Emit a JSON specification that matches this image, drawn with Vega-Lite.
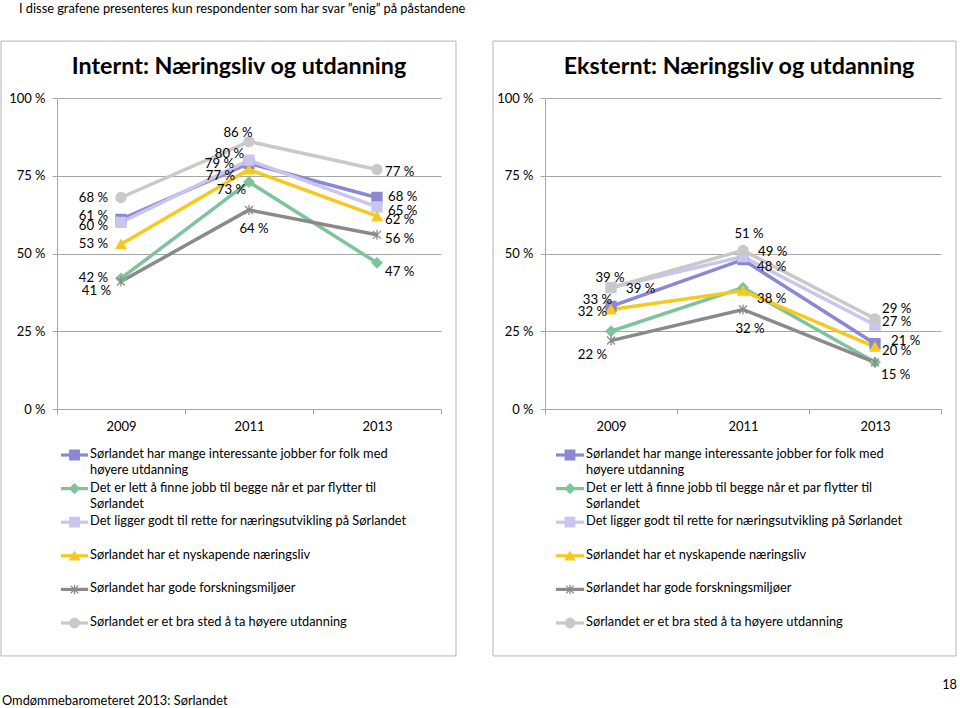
{
  "$schema": "https://vega.github.io/schema/vega-lite/v6.json",
  "padding": {"left": 0, "top": 2, "right": 0, "bottom": 0},
  "background": "#ffffff",
  "title": {"text": "I disse grafene presenteres kun respondenter som har svar ”enig” på påstandene", "anchor": "start", "frame": "group", "dx": -38, "offset": 25, "fontSize": 12.8, "fontWeight": "normal", "font": "Lato", "color": "#000000"},
  "datasets": {
    "internt": [
      {"k": "A", "series": "Sørlandet har mange interessante jobber for folk med høyere utdanning", "year": 2009, "value": 0.61},
      {"k": "A", "series": "Sørlandet har mange interessante jobber for folk med høyere utdanning", "year": 2011, "value": 0.79},
      {"k": "A", "series": "Sørlandet har mange interessante jobber for folk med høyere utdanning", "year": 2013, "value": 0.68},
      {"k": "B", "series": "Det er lett å finne jobb til begge når et par flytter til Sørlandet", "year": 2009, "value": 0.42},
      {"k": "B", "series": "Det er lett å finne jobb til begge når et par flytter til Sørlandet", "year": 2011, "value": 0.73},
      {"k": "B", "series": "Det er lett å finne jobb til begge når et par flytter til Sørlandet", "year": 2013, "value": 0.47},
      {"k": "C", "series": "Det ligger godt til rette for næringsutvikling på Sørlandet", "year": 2009, "value": 0.60},
      {"k": "C", "series": "Det ligger godt til rette for næringsutvikling på Sørlandet", "year": 2011, "value": 0.80},
      {"k": "C", "series": "Det ligger godt til rette for næringsutvikling på Sørlandet", "year": 2013, "value": 0.65},
      {"k": "D", "series": "Sørlandet har et nyskapende næringsliv", "year": 2009, "value": 0.53},
      {"k": "D", "series": "Sørlandet har et nyskapende næringsliv", "year": 2011, "value": 0.77},
      {"k": "D", "series": "Sørlandet har et nyskapende næringsliv", "year": 2013, "value": 0.62},
      {"k": "E", "series": "Sørlandet har gode forskningsmiljøer", "year": 2009, "value": 0.41},
      {"k": "E", "series": "Sørlandet har gode forskningsmiljøer", "year": 2011, "value": 0.64},
      {"k": "E", "series": "Sørlandet har gode forskningsmiljøer", "year": 2013, "value": 0.56},
      {"k": "F", "series": "Sørlandet er et bra sted å ta høyere utdanning", "year": 2009, "value": 0.68},
      {"k": "F", "series": "Sørlandet er et bra sted å ta høyere utdanning", "year": 2011, "value": 0.86},
      {"k": "F", "series": "Sørlandet er et bra sted å ta høyere utdanning", "year": 2013, "value": 0.77}
    ],
    "eksternt": [
      {"k": "A", "series": "Sørlandet har mange interessante jobber for folk med høyere utdanning", "year": 2009, "value": 0.33},
      {"k": "A", "series": "Sørlandet har mange interessante jobber for folk med høyere utdanning", "year": 2011, "value": 0.48},
      {"k": "A", "series": "Sørlandet har mange interessante jobber for folk med høyere utdanning", "year": 2013, "value": 0.21},
      {"k": "B", "series": "Det er lett å finne jobb til begge når et par flytter til Sørlandet", "year": 2009, "value": 0.25},
      {"k": "B", "series": "Det er lett å finne jobb til begge når et par flytter til Sørlandet", "year": 2011, "value": 0.39},
      {"k": "B", "series": "Det er lett å finne jobb til begge når et par flytter til Sørlandet", "year": 2013, "value": 0.15},
      {"k": "C", "series": "Det ligger godt til rette for næringsutvikling på Sørlandet", "year": 2009, "value": 0.39},
      {"k": "C", "series": "Det ligger godt til rette for næringsutvikling på Sørlandet", "year": 2011, "value": 0.49},
      {"k": "C", "series": "Det ligger godt til rette for næringsutvikling på Sørlandet", "year": 2013, "value": 0.27},
      {"k": "D", "series": "Sørlandet har et nyskapende næringsliv", "year": 2009, "value": 0.32},
      {"k": "D", "series": "Sørlandet har et nyskapende næringsliv", "year": 2011, "value": 0.38},
      {"k": "D", "series": "Sørlandet har et nyskapende næringsliv", "year": 2013, "value": 0.20},
      {"k": "E", "series": "Sørlandet har gode forskningsmiljøer", "year": 2009, "value": 0.22},
      {"k": "E", "series": "Sørlandet har gode forskningsmiljøer", "year": 2011, "value": 0.32},
      {"k": "E", "series": "Sørlandet har gode forskningsmiljøer", "year": 2013, "value": 0.15},
      {"k": "F", "series": "Sørlandet er et bra sted å ta høyere utdanning", "year": 2009, "value": 0.39},
      {"k": "F", "series": "Sørlandet er et bra sted å ta høyere utdanning", "year": 2011, "value": 0.51},
      {"k": "F", "series": "Sørlandet er et bra sted å ta høyere utdanning", "year": 2013, "value": 0.29}
    ]
  },
  "columns": 2,
  "align": "each",
  "bounds": "flush",
  "spacing": {"row": 46, "column": 104},
  "concat": [
    {
      "data": {"name": "internt"},
      "width": 384, "height": 311,
      "title": {"text": "Internt: Næringsliv og utdanning", "font": "Lato", "fontSize": 23.3, "fontWeight": "bold", "anchor": "middle", "dx": -10, "offset": -38.5, "color": "#000000"},
      "encoding": {
        "x": {"field": "year", "type": "quantitative", "scale": {"domain": [2008, 2014], "nice": false, "zero": false}, "axis": {"title": null, "values": [2008, 2009, 2010, 2011, 2012, 2013, 2014], "labelExpr": "datum.value % 2 == 1 ? '' + datum.value : ''", "tickOpacity": {"condition": {"test": "datum.value % 2 == 0", "value": 1}, "value": 0}, "labelFlush": false, "labelOverlap": false}},
        "y": {"field": "value", "type": "quantitative", "scale": {"domain": [0, 1], "nice": false}, "axis": {"title": null, "values": [0, 0.25, 0.5, 0.75, 1], "format": ".0%"}},
        "color": {"field": "series", "type": "nominal", "scale": {"domain": ["Sørlandet har mange interessante jobber for folk med høyere utdanning", "Det er lett å finne jobb til begge når et par flytter til Sørlandet", "Det ligger godt til rette for næringsutvikling på Sørlandet", "Sørlandet har et nyskapende næringsliv", "Sørlandet har gode forskningsmiljøer", "Sørlandet er et bra sted å ta høyere utdanning"], "range": ["#8C87D2", "#7DC49B", "#C8C6EC", "#F7C81E", "#8A8A8A", "#C9C9C9"]}, "legend": null}
      },
      "layer": [
        {"transform": [{"filter": "datum.year==2009 && datum.k=='A'"}],
         "mark": {"type": "rect", "filled": false, "strokeWidth": 1, "clip": false},
         "encoding": {
           "x": {"datum": 2007.125, "type": "quantitative"},
           "x2": {"datum": 2014.234},
           "y": {"datum": 1.183, "type": "quantitative"},
           "y2": {"datum": -0.794},
           "color": {"value": "#B4B4B4"}
         }},
        {"mark": {"type": "line", "strokeWidth": 3.5}},
        {"mark": {"type": "point", "filled": true, "opacity": 1, "size": 100, "strokeWidth": 1.3},
         "encoding": {
           "shape": {"field": "series", "type": "nominal", "scale": {"domain": ["Sørlandet har mange interessante jobber for folk med høyere utdanning", "Det er lett å finne jobb til begge når et par flytter til Sørlandet", "Det ligger godt til rette for næringsutvikling på Sørlandet", "Sørlandet har et nyskapende næringsliv", "Sørlandet har gode forskningsmiljøer", "Sørlandet er et bra sted å ta høyere utdanning"], "range": ["square", "diamond", "square", "triangle-up", "M-0.8,-0.8L0.8,0.8M0.8,-0.8L-0.8,0.8M0,-1L0,1", "circle"]}, "legend": null},
           "stroke": {"field": "series", "type": "nominal", "scale": {"domain": ["Sørlandet har mange interessante jobber for folk med høyere utdanning", "Det er lett å finne jobb til begge når et par flytter til Sørlandet", "Det ligger godt til rette for næringsutvikling på Sørlandet", "Sørlandet har et nyskapende næringsliv", "Sørlandet har gode forskningsmiljøer", "Sørlandet er et bra sted å ta høyere utdanning"], "range": ["#8C87D2", "#7DC49B", "#C8C6EC", "#F7C81E", "#8A8A8A", "#C9C9C9"]}, "legend": null}
         }},
        {"encoding": {"text": {"field": "value", "type": "quantitative", "format": ".0%"}, "color": {"value": "#000000"}},
         "layer": [
           {"transform": [{"filter": "datum.year==2009 && indexof(['F','D','B'], datum.k) >= 0"}], "mark": {"type": "text", "align": "right", "dx": -13, "dy": 0}},
           {"transform": [{"filter": "datum.year==2009 && datum.k=='A'"}], "mark": {"type": "text", "align": "right", "dx": -13, "dy": -3}},
           {"transform": [{"filter": "datum.year==2009 && datum.k=='C'"}], "mark": {"type": "text", "align": "right", "dx": -13, "dy": 4}},
           {"transform": [{"filter": "datum.year==2009 && datum.k=='E'"}], "mark": {"type": "text", "align": "right", "dx": -10, "dy": 10}},
           {"transform": [{"filter": "datum.year==2011 && datum.k=='F'"}], "mark": {"type": "text", "align": "center", "dx": -11, "dy": -9}},
           {"transform": [{"filter": "datum.year==2011 && datum.k=='C'"}], "mark": {"type": "text", "align": "right", "dx": -5, "dy": -6}},
           {"transform": [{"filter": "datum.year==2011 && datum.k=='A'"}], "mark": {"type": "text", "align": "right", "dx": -15, "dy": 1}},
           {"transform": [{"filter": "datum.year==2011 && datum.k=='D'"}], "mark": {"type": "text", "align": "right", "dx": -14, "dy": 6}},
           {"transform": [{"filter": "datum.year==2011 && datum.k=='B'"}], "mark": {"type": "text", "align": "right", "dx": -3, "dy": 8}},
           {"transform": [{"filter": "datum.year==2011 && datum.k=='E'"}], "mark": {"type": "text", "align": "center", "dx": 5, "dy": 19}},
           {"transform": [{"filter": "datum.year==2013 && datum.k=='F'"}], "mark": {"type": "text", "align": "left", "dx": 8, "dy": 2}},
           {"transform": [{"filter": "datum.year==2013 && datum.k=='A'"}], "mark": {"type": "text", "align": "left", "dx": 11, "dy": -1}},
           {"transform": [{"filter": "datum.year==2013 && datum.k=='C'"}], "mark": {"type": "text", "align": "left", "dx": 11, "dy": 4}},
           {"transform": [{"filter": "datum.year==2013 && indexof(['D','E'], datum.k) >= 0"}], "mark": {"type": "text", "align": "left", "dx": 8, "dy": 4}},
           {"transform": [{"filter": "datum.year==2013 && datum.k=='B'"}], "mark": {"type": "text", "align": "left", "dx": 8, "dy": 9}}
         ]}
      ]
    },
    {
      "data": {"name": "eksternt"},
      "width": 396, "height": 311,
      "title": {"text": "Eksternt: Næringsliv og utdanning", "font": "Lato", "fontSize": 23.3, "fontWeight": "bold", "anchor": "middle", "dx": -4, "offset": -38.5, "color": "#000000"},
      "encoding": {
        "x": {"field": "year", "type": "quantitative", "scale": {"domain": [2008, 2014], "nice": false, "zero": false}, "axis": {"title": null, "values": [2008, 2009, 2010, 2011, 2012, 2013, 2014], "labelExpr": "datum.value % 2 == 1 ? '' + datum.value : ''", "tickOpacity": {"condition": {"test": "datum.value % 2 == 0", "value": 1}, "value": 0}, "labelFlush": false, "labelOverlap": false}},
        "y": {"field": "value", "type": "quantitative", "scale": {"domain": [0, 1], "nice": false}, "axis": {"title": null, "values": [0, 0.25, 0.5, 0.75, 1], "format": ".0%"}},
        "color": {"field": "series", "type": "nominal", "scale": {"domain": ["Sørlandet har mange interessante jobber for folk med høyere utdanning", "Det er lett å finne jobb til begge når et par flytter til Sørlandet", "Det ligger godt til rette for næringsutvikling på Sørlandet", "Sørlandet har et nyskapende næringsliv", "Sørlandet har gode forskningsmiljøer", "Sørlandet er et bra sted å ta høyere utdanning"], "range": ["#8C87D2", "#7DC49B", "#C8C6EC", "#F7C81E", "#8A8A8A", "#C9C9C9"]}, "legend": null}
      },
      "layer": [
        {"transform": [{"filter": "datum.year==2009 && datum.k=='A'"}],
         "mark": {"type": "rect", "filled": false, "strokeWidth": 1, "clip": false},
         "encoding": {
           "x": {"datum": 2007.212, "type": "quantitative"},
           "x2": {"datum": 2014.227},
           "y": {"datum": 1.183, "type": "quantitative"},
           "y2": {"datum": -0.794},
           "color": {"value": "#B4B4B4"}
         }},
        {"mark": {"type": "line", "strokeWidth": 3.5}},
        {"mark": {"type": "point", "filled": true, "opacity": 1, "size": 100, "strokeWidth": 1.3},
         "encoding": {
           "shape": {"field": "series", "type": "nominal", "scale": {"domain": ["Sørlandet har mange interessante jobber for folk med høyere utdanning", "Det er lett å finne jobb til begge når et par flytter til Sørlandet", "Det ligger godt til rette for næringsutvikling på Sørlandet", "Sørlandet har et nyskapende næringsliv", "Sørlandet har gode forskningsmiljøer", "Sørlandet er et bra sted å ta høyere utdanning"], "range": ["square", "diamond", "square", "triangle-up", "M-0.8,-0.8L0.8,0.8M0.8,-0.8L-0.8,0.8M0,-1L0,1", "circle"]}, "legend": null},
           "stroke": {"field": "series", "type": "nominal", "scale": {"domain": ["Sørlandet har mange interessante jobber for folk med høyere utdanning", "Det er lett å finne jobb til begge når et par flytter til Sørlandet", "Det ligger godt til rette for næringsutvikling på Sørlandet", "Sørlandet har et nyskapende næringsliv", "Sørlandet har gode forskningsmiljøer", "Sørlandet er et bra sted å ta høyere utdanning"], "range": ["#8C87D2", "#7DC49B", "#C8C6EC", "#F7C81E", "#8A8A8A", "#C9C9C9"]}, "legend": null}
         }},
        {"encoding": {"text": {"field": "value", "type": "quantitative", "format": ".0%"}, "color": {"value": "#000000"}},
         "layer": [
           {"transform": [{"filter": "datum.year==2009 && datum.k=='C'"}], "mark": {"type": "text", "align": "center", "dx": -1, "dy": -10}},
           {"transform": [{"filter": "datum.year==2009 && datum.k=='F'"}], "mark": {"type": "text", "align": "left", "dx": 15, "dy": 1}},
           {"transform": [{"filter": "datum.year==2009 && datum.k=='A'"}], "mark": {"type": "text", "align": "right", "dx": 1, "dy": -6}},
           {"transform": [{"filter": "datum.year==2009 && datum.k=='D'"}], "mark": {"type": "text", "align": "right", "dx": -4, "dy": 3}},
           {"transform": [{"filter": "datum.year==2009 && datum.k=='E'"}], "mark": {"type": "text", "align": "right", "dx": -4, "dy": 14}},
           {"transform": [{"filter": "datum.year==2011 && datum.k=='F'"}], "mark": {"type": "text", "align": "center", "dx": 6, "dy": -16}},
           {"transform": [{"filter": "datum.year==2011 && datum.k=='C'"}], "mark": {"type": "text", "align": "left", "dx": 15, "dy": -5}},
           {"transform": [{"filter": "datum.year==2011 && datum.k=='A'"}], "mark": {"type": "text", "align": "left", "dx": 14, "dy": 7}},
           {"transform": [{"filter": "datum.year==2011 && datum.k=='D'"}], "mark": {"type": "text", "align": "left", "dx": 14, "dy": 8}},
           {"transform": [{"filter": "datum.year==2011 && datum.k=='E'"}], "mark": {"type": "text", "align": "center", "dx": 7, "dy": 20}},
           {"transform": [{"filter": "datum.year==2013 && datum.k=='F'"}], "mark": {"type": "text", "align": "left", "dx": 7, "dy": -10}},
           {"transform": [{"filter": "datum.year==2013 && datum.k=='C'"}], "mark": {"type": "text", "align": "left", "dx": 7, "dy": -3}},
           {"transform": [{"filter": "datum.year==2013 && datum.k=='A'"}], "mark": {"type": "text", "align": "left", "dx": 16, "dy": -3}},
           {"transform": [{"filter": "datum.year==2013 && datum.k=='D'"}], "mark": {"type": "text", "align": "left", "dx": 7, "dy": 4}},
           {"transform": [{"filter": "datum.year==2013 && datum.k=='E'"}], "mark": {"type": "text", "align": "left", "dx": 6, "dy": 13}}
         ]}
      ]
    },
    {
      "data": {"name": "internt"},
      "transform": [{"filter": "datum.year==2009"}],
      "width": 384, "height": 168,
      "title": {"text": "Omdømmebarometeret 2013: Sørlandet", "orient": "bottom", "anchor": "start", "frame": "group", "dx": -55, "offset": 65, "font": "Lato", "fontSize": 12.8, "fontWeight": "normal", "color": "#000000"},
      "encoding": {
        "y": {"field": "series", "type": "nominal", "scale": {"type": "point", "padding": 0, "domain": ["Sørlandet har mange interessante jobber for folk med høyere utdanning", "Det er lett å finne jobb til begge når et par flytter til Sørlandet", "Det ligger godt til rette for næringsutvikling på Sørlandet", "Sørlandet har et nyskapende næringsliv", "Sørlandet har gode forskningsmiljøer", "Sørlandet er et bra sted å ta høyere utdanning"]}, "axis": null},
        "color": {"field": "series", "type": "nominal", "scale": {"domain": ["Sørlandet har mange interessante jobber for folk med høyere utdanning", "Det er lett å finne jobb til begge når et par flytter til Sørlandet", "Det ligger godt til rette for næringsutvikling på Sørlandet", "Sørlandet har et nyskapende næringsliv", "Sørlandet har gode forskningsmiljøer", "Sørlandet er et bra sted å ta høyere utdanning"], "range": ["#8C87D2", "#7DC49B", "#C8C6EC", "#F7C81E", "#8A8A8A", "#C9C9C9"]}, "legend": null}
      },
      "layer": [
        {"mark": {"type": "rule", "strokeWidth": 3.2},
         "encoding": {"x": {"datum": 4, "type": "quantitative", "scale": {"domain": [0, 384], "nice": false, "zero": false}, "axis": null}, "x2": {"datum": 31}}},
        {"mark": {"type": "point", "filled": true, "opacity": 1, "size": 90, "strokeWidth": 1.3},
         "encoding": {
           "x": {"datum": 17.5, "type": "quantitative", "scale": {"domain": [0, 384], "nice": false, "zero": false}, "axis": null},
           "shape": {"field": "series", "type": "nominal", "scale": {"domain": ["Sørlandet har mange interessante jobber for folk med høyere utdanning", "Det er lett å finne jobb til begge når et par flytter til Sørlandet", "Det ligger godt til rette for næringsutvikling på Sørlandet", "Sørlandet har et nyskapende næringsliv", "Sørlandet har gode forskningsmiljøer", "Sørlandet er et bra sted å ta høyere utdanning"], "range": ["square", "diamond", "square", "triangle-up", "M-0.8,-0.8L0.8,0.8M0.8,-0.8L-0.8,0.8M0,-1L0,1", "circle"]}, "legend": null},
           "stroke": {"field": "series", "type": "nominal", "scale": {"domain": ["Sørlandet har mange interessante jobber for folk med høyere utdanning", "Det er lett å finne jobb til begge når et par flytter til Sørlandet", "Det ligger godt til rette for næringsutvikling på Sørlandet", "Sørlandet har et nyskapende næringsliv", "Sørlandet har gode forskningsmiljøer", "Sørlandet er et bra sted å ta høyere utdanning"], "range": ["#8C87D2", "#7DC49B", "#C8C6EC", "#F7C81E", "#8A8A8A", "#C9C9C9"]}, "legend": null}
         }},
        {"mark": {"type": "text", "align": "left", "baseline": "top", "dy": -7, "lineHeight": 16, "fontSize": 12.8, "text": {"expr": "datum.k=='A' ? ['Sørlandet har mange interessante jobber for folk med', 'høyere utdanning'] : datum.k=='B' ? ['Det er lett å finne jobb til begge når et par flytter til', 'Sørlandet'] : datum.series"}},
         "encoding": {"x": {"datum": 33, "type": "quantitative", "scale": {"domain": [0, 384], "nice": false, "zero": false}, "axis": null}, "color": {"value": "#000000"}}}
      ]
    },
    {
      "data": {"name": "eksternt"},
      "transform": [{"filter": "datum.year==2009"}],
      "width": 396, "height": 168,
      "title": {"text": "18", "orient": "bottom", "anchor": "end", "frame": "group", "dx": 16, "offset": 49, "font": "Lato", "fontSize": 12.8, "fontWeight": "normal", "color": "#000000"},
      "encoding": {
        "y": {"field": "series", "type": "nominal", "scale": {"type": "point", "padding": 0, "domain": ["Sørlandet har mange interessante jobber for folk med høyere utdanning", "Det er lett å finne jobb til begge når et par flytter til Sørlandet", "Det ligger godt til rette for næringsutvikling på Sørlandet", "Sørlandet har et nyskapende næringsliv", "Sørlandet har gode forskningsmiljøer", "Sørlandet er et bra sted å ta høyere utdanning"]}, "axis": null},
        "color": {"field": "series", "type": "nominal", "scale": {"domain": ["Sørlandet har mange interessante jobber for folk med høyere utdanning", "Det er lett å finne jobb til begge når et par flytter til Sørlandet", "Det ligger godt til rette for næringsutvikling på Sørlandet", "Sørlandet har et nyskapende næringsliv", "Sørlandet har gode forskningsmiljøer", "Sørlandet er et bra sted å ta høyere utdanning"], "range": ["#8C87D2", "#7DC49B", "#C8C6EC", "#F7C81E", "#8A8A8A", "#C9C9C9"]}, "legend": null}
      },
      "layer": [
        {"mark": {"type": "rule", "strokeWidth": 3.2},
         "encoding": {"x": {"datum": 11, "type": "quantitative", "scale": {"domain": [0, 396], "nice": false, "zero": false}, "axis": null}, "x2": {"datum": 39}}},
        {"mark": {"type": "point", "filled": true, "opacity": 1, "size": 90, "strokeWidth": 1.3},
         "encoding": {
           "x": {"datum": 25, "type": "quantitative", "scale": {"domain": [0, 396], "nice": false, "zero": false}, "axis": null},
           "shape": {"field": "series", "type": "nominal", "scale": {"domain": ["Sørlandet har mange interessante jobber for folk med høyere utdanning", "Det er lett å finne jobb til begge når et par flytter til Sørlandet", "Det ligger godt til rette for næringsutvikling på Sørlandet", "Sørlandet har et nyskapende næringsliv", "Sørlandet har gode forskningsmiljøer", "Sørlandet er et bra sted å ta høyere utdanning"], "range": ["square", "diamond", "square", "triangle-up", "M-0.8,-0.8L0.8,0.8M0.8,-0.8L-0.8,0.8M0,-1L0,1", "circle"]}, "legend": null},
           "stroke": {"field": "series", "type": "nominal", "scale": {"domain": ["Sørlandet har mange interessante jobber for folk med høyere utdanning", "Det er lett å finne jobb til begge når et par flytter til Sørlandet", "Det ligger godt til rette for næringsutvikling på Sørlandet", "Sørlandet har et nyskapende næringsliv", "Sørlandet har gode forskningsmiljøer", "Sørlandet er et bra sted å ta høyere utdanning"], "range": ["#8C87D2", "#7DC49B", "#C8C6EC", "#F7C81E", "#8A8A8A", "#C9C9C9"]}, "legend": null}
         }},
        {"mark": {"type": "text", "align": "left", "baseline": "top", "dy": -7, "lineHeight": 16, "fontSize": 12.8, "text": {"expr": "datum.k=='A' ? ['Sørlandet har mange interessante jobber for folk med', 'høyere utdanning'] : datum.k=='B' ? ['Det er lett å finne jobb til begge når et par flytter til', 'Sørlandet'] : datum.series"}},
         "encoding": {"x": {"datum": 41, "type": "quantitative", "scale": {"domain": [0, 396], "nice": false, "zero": false}, "axis": null}, "color": {"value": "#000000"}}}
      ]
    }
  ],
  "resolve": {"scale": {"x": "independent", "y": "independent"}},
  "config": {
    "font": "Lato",
    "locale": {"number": {"decimal": ",", "thousands": " ", "grouping": [3], "currency": ["", " kr"], "percent": " %"}},
    "view": {"stroke": null},
    "text": {"font": "Lato", "fontSize": 13.2, "baseline": "middle"},
    "axis": {"labelFont": "Lato", "labelFontSize": 13, "labelColor": "#000000", "domainColor": "#A6A6A6", "tickColor": "#A6A6A6", "tickSize": 5, "gridColor": "#A6A6A6", "gridWidth": 1},
    "axisY": {"grid": true, "labelPadding": 7},
    "axisX": {"grid": false, "labelAngle": 0, "labelPadding": 6}
  }
}
